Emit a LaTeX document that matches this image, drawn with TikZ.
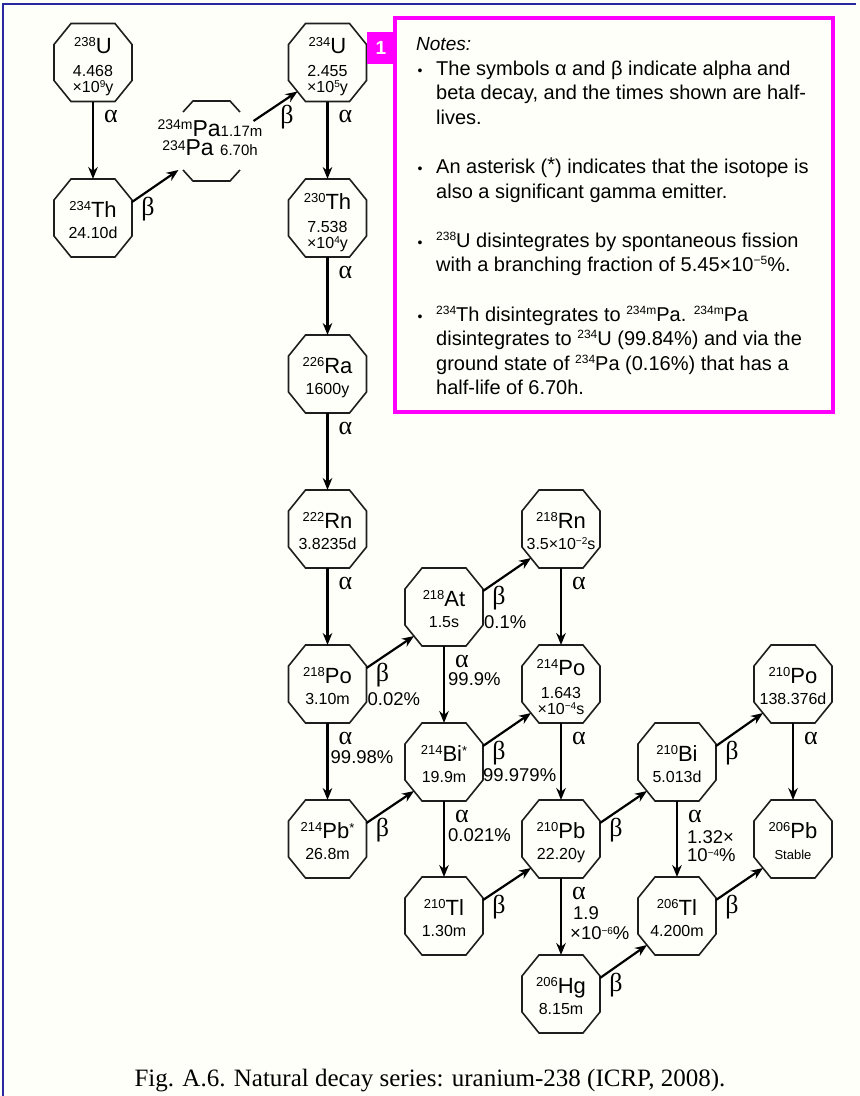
\documentclass[tikz,border=0pt]{standalone}
\usepackage{fontspec}
\setmainfont{Liberation Sans}
\newfontfamily\capfont{Liberation Serif}
\usetikzlibrary{arrows.meta}

\definecolor{mag}{RGB}{255,0,255}
\definecolor{frameblue}{RGB}{40,40,160}
\definecolor{edgegray}{RGB}{30,30,30}
\definecolor{paper}{RGB}{255,255,250}

\newcommand\fs[1]{\fontsize{#1}{#1}\selectfont}
\newcommand\mass[1]{{\fs{13}\raisebox{7pt}{#1}}}
\newcommand\hsup[1]{{\fs{10}\raisebox{5pt}{#1}}}
\newcommand\gstar{{\fs{13}\raisebox{6pt}{*}}}
\newcommand\nsup[1]{{\fs{12}\raisebox{7pt}{#1}}}

\tikzset{
  octa/.style={rectangle, minimum width=78pt, minimum height=78pt, inner sep=0pt, outer sep=0pt},
  octline/.style={draw=edgegray, line width=1.6pt, line join=miter},
  symb/.style={anchor=base, inner sep=0pt, font=\fs{22}},
  hl/.style={anchor=base, inner sep=0pt, font=\fs{16}},
  arr/.style={draw=black, line width=2.2pt, -{Stealth[length=12pt,width=9.5pt]}},
  greek/.style={inner sep=0pt, font=\capfont\fs{26}},
  pct/.style={anchor=west, inner sep=0pt, font=\fs{18.5}},
  note/.style={anchor=base west, inner sep=0pt, font=\fs{20}},
  dot/.style={anchor=base, inner sep=0pt, font=\fs{14}},
}

% octagon outline around a named square node
\newcommand\octagon[1]{%
  \draw[octline] ([shift={(-22,-39)}]#1.center) -- ([shift={(22,-39)}]#1.center)
    -- ([shift={(39,-18)}]#1.center) -- ([shift={(39,18)}]#1.center)
    -- ([shift={(22,39)}]#1.center) -- ([shift={(-22,39)}]#1.center)
    -- ([shift={(-39,18)}]#1.center) -- ([shift={(-39,-18)}]#1.center) -- cycle;}

% nuclide with one half-life line: name, x, y, mass, symbol, half-life
\newcommand\nucTwo[6]{%
  \node[octa] (#1) at (#2,#3) {};
  \octagon{#1}
  \node[symb] (#1-sym) at ([shift={(0,-1)}]#1.center) {\mass{#4}#5};
  \node[hl] (#1-hl) at ([shift={(0,20)}]#1.center) {#6};
  \coordinate (#1-out) at ([shift={(39,-16)}]#1.center);
  \coordinate (#1-in) at ([shift={(-30,29)}]#1.center);
}
% nuclide with a two-line half-life
\newcommand\nucThree[7]{%
  \node[octa] (#1) at (#2,#3) {};
  \octagon{#1}
  \node[symb] (#1-sym) at ([shift={(0,-9)}]#1.center) {\mass{#4}#5};
  \node[hl] (#1-hl) at ([shift={(0,14)}]#1.center) {#6};
  \node[hl] (#1-hlb) at ([shift={(0,30)}]#1.center) {#7};
  \coordinate (#1-out) at ([shift={(39,-16)}]#1.center);
  \coordinate (#1-in) at ([shift={(-30,29)}]#1.center);
}

\begin{document}
\begin{tikzpicture}[x=1pt, y=-1pt]
\useasboundingbox (0,0) rectangle (860,1096);
\fill[paper] (0,0) rectangle (860,1096);
\draw[frameblue, line width=2pt] (3,1096) -- (3,4) -- (856,4);

% ---- nuclides
\nucThree{U238}{93}{62.5}{238}{U}{4.468}{×10\hsup{9}y}
\nucThree{U234}{327.5}{62.5}{234}{U}{2.455}{×10\hsup{5}y}
\nucTwo{Th234}{93}{218}{234}{Th}{24.10d}
\nucThree{Th230}{327.5}{218}{230}{Th}{7.538}{×10\hsup{4}y}
\nucTwo{Ra226}{327.5}{374}{226}{Ra}{1600y}
\nucTwo{Rn222}{327.5}{529}{222}{Rn}{3.8235d}
\nucTwo{Po218}{327.5}{684}{218}{Po}{3.10m}
\nucTwo{At218}{444}{607}{218}{At}{1.5s}
\nucTwo{Rn218}{561}{529}{218}{Rn}{3.5×10\hsup{−2}s}
\nucThree{Po214}{561}{684}{214}{Po}{1.643}{×10\hsup{−4}s}
\nucTwo{Bi214}{444}{762}{214}{Bi\gstar}{19.9m}
\nucTwo{Pb214}{327.5}{839}{214}{Pb\gstar}{26.8m}
\nucTwo{Tl210}{444}{916}{210}{Tl}{1.30m}
\nucTwo{Pb210}{561}{839}{210}{Pb}{22.20y}
\nucTwo{Bi210}{677}{762}{210}{Bi}{5.013d}
\nucTwo{Po210}{793}{684}{210}{Po}{138.376d}
\nucTwo{Pb206}{793}{839}{206}{Pb}{{\fs{13}Stable}}
\nucTwo{Tl206}{677}{916}{206}{Tl}{4.200m}
\nucTwo{Hg206}{561}{994}{206}{Hg}{8.15m}

% protactinium pair: open outline, text runs through the sides
\node[rectangle, minimum width=57pt, minimum height=80pt, inner sep=0pt] (Pa) at (211.5,141) {};
\draw[octline] ([shift={(-28.5,-29)}]Pa.center) -- ([shift={(-18.5,-40)}]Pa.center)
  -- ([shift={(18.5,-40)}]Pa.center) -- ([shift={(28.5,-29)}]Pa.center);
\draw[octline] ([shift={(-28.5,29)}]Pa.center) -- ([shift={(-18.5,40)}]Pa.center)
  -- ([shift={(18.5,40)}]Pa.center) -- ([shift={(28.5,29)}]Pa.center);
\node[inner sep=0pt, align=center, font=\fs{23}, anchor=north] (Pa-text)
  at ([shift={(-1.5,-21)}]Pa.center)
  {{\fs{14}\raisebox{7pt}{234m}}Pa{\fs{15}1.17m}\\[-4pt]
   {\fs{14}\raisebox{5pt}{234}}Pa {\fs{15}6.70h}};
\coordinate (Pa-in) at ([shift={(-33,29)}]Pa.center);
\coordinate (Pa-out) at ([shift={(42,-20)}]Pa.center);

% ---- alpha decays
\foreach \s/\t in {U238/Th234, U234/Th230, Th230/Ra226, Ra226/Rn222, Rn222/Po218,
    Po218/Pb214, At218/Bi214, Rn218/Po214, Po214/Pb210, Bi214/Tl210,
    Pb210/Hg206, Bi210/Tl206, Po210/Pb206}{
  \draw[arr] (\s.south) -- (\t.north);
  \node[greek] (alpha-\s) at ([shift={(18,15)}]\s.south) {α};
}
\node[pct] (pct-Po218) at ([shift={(3,34)}]Po218.south) {99.98\%};
\node[pct] (pct-At218) at ([shift={(4,33)}]At218.south) {99.9\%};
\node[pct] (pct-Bi214) at ([shift={(4,34)}]Bi214.south) {0.021\%};
\node[pct] (pct-Bi210) at ([shift={(10,36)}]Bi210.south) {1.32×};
\node[pct] (pct-Bi210b) at ([shift={(10,54)}]Bi210.south) {10\hsup{−4}\%};
\node[pct] (pct-Pb210) at ([shift={(12,35)}]Pb210.south) {1.9};
\node[pct] (pct-Pb210b) at ([shift={(9,55)}]Pb210.south) {×10\hsup{−6}\%};

% ---- beta decays
\foreach \s/\t in {Th234/Pa, Po218/At218, At218/Rn218, Bi214/Po214, Pb214/Bi214,
    Tl210/Pb210, Pb210/Bi210, Bi210/Po210, Hg206/Tl206, Tl206/Pb206}{
  \draw[arr] (\s-out) -- (\t-in);
  \node[greek] (beta-\s) at ([shift={(55,-9)}]\s.center) {β};
}
\draw[arr] (Pa-out) -- (U234-in);
\node[greek] (beta-Pa) at ([shift={(75.5,-24)}]Pa.center) {β};
\node[pct] (pct-Po218b) at ([shift={(40,15)}]Po218.center) {0.02\%};
\node[pct] (pct-At218b) at ([shift={(40,15)}]At218.center) {0.1\%};
\node[pct] (pct-Bi214b) at ([shift={(39,13)}]Bi214.center) {99.979\%};

% ---- notes panel
\draw[mag, line width=4pt] (395,18) rectangle (833,412);
\node[fill=mag, text=white, minimum width=28pt, minimum height=32pt, inner sep=0pt,
  font=\bfseries\fs{19}] (tag) at (381,48) {1};
\node[anchor=base west, inner sep=0pt, font=\itshape\fs{19}] (notes-title) at (416,50) {Notes:};
\node[dot] (b1) at (420,75) {•};
\node[note] (n1) at (436,75) {The symbols α and β indicate alpha and};
\node[note] (n2) at (436,99.6) {beta decay, and the times shown are half-};
\node[note] (n3) at (436,124.2) {lives.};
\node[dot] (b2) at (420,173.4) {•};
\node[note] (n4) at (436,173.4) {An asterisk (\raisebox{2pt}{*}) indicates that the isotope is};
\node[note] (n5) at (436,198) {also a significant gamma emitter.};
\node[dot] (b3) at (420,247.2) {•};
\node[note] (n6) at (436,247.2) {\nsup{238}U disintegrates by spontaneous fission};
\node[note] (n7) at (436,271.8) {with a branching fraction of 5.45×10\nsup{−5}\%.};
\node[dot] (b4) at (420,321) {•};
\node[note] (n8) at (436,321) {\nsup{234}Th disintegrates to \nsup{234m}Pa. \nsup{234m}Pa};
\node[note] (n9) at (436,345.6) {disintegrates to \nsup{234}U (99.84\%) and via the};
\node[note] (n10) at (436,370.2) {ground state of \nsup{234}Pa (0.16\%) that has a};
\node[note] (n11) at (436,394.8) {half-life of 6.70h.};

% ---- caption
\node[anchor=base, inner sep=0pt, font=\capfont\fs{25}] (caption) at (430,1086)
  {Fig. A.6. Natural decay series: uranium-238 (ICRP, 2008).};
\end{tikzpicture}
\end{document}
